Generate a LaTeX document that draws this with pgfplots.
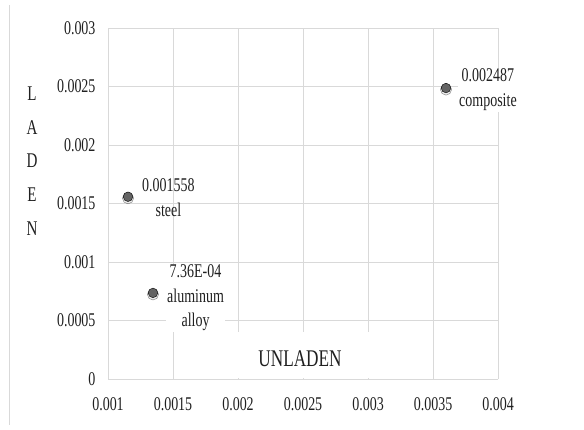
\documentclass[border=0pt]{standalone}
\usepackage{fontspec}
\setmainfont{Liberation Serif}[FakeStretch=0.72]
\usepackage{pgfplots}
\pgfplotsset{compat=1.18}
\definecolor{gridc}{HTML}{D9D9D9}
\definecolor{txt}{HTML}{202020}
\definecolor{mk}{HTML}{646464}
\begin{document}
\begin{tikzpicture}[x=1bp,y=1bp]
\useasboundingbox (0,0) rectangle (584,-429);
\draw[gridc, line width=0.8bp] (9,-5) -- (9,-425);
\node[align=center, text=txt, font=\fontsize{21}{33.8}\selectfont] at (32,-161) {L\\A\\D\\E\\N};
\begin{axis}[
  at={(108bp,-379bp)}, anchor=south west, scale only axis,
  width=390bp, height=351bp,
  xmin=0.001, xmax=0.004, ymin=0, ymax=0.003,
  scaled ticks=false,
  xtick={0.001,0.0015,0.002,0.0025,0.003,0.0035,0.004},
  xticklabels={0.001,0.0015,0.002,0.0025,0.003,0.0035,0.004},
  ytick={0,0.0005,0.001,0.0015,0.002,0.0025,0.003},
  yticklabels={0,0.0005,0.001,0.0015,0.002,0.0025,0.003},
  axis line style={draw=none},
  major tick length=0pt,
  grid=major, grid style={gridc, line width=0.8bp},
  tick label style={font=\fontsize{19.5}{21}\selectfont, text=txt},
  yticklabel style={xshift=-9bp},
  xticklabel style={yshift=-15bp},
  clip=false,
]
\fill[white] (axis cs:0.00199,0.00001) rectangle (axis cs:0.00301,0.0004);
\node[text=txt, font=\fontsize{24}{26}\selectfont] at (axis cs:0.002477,0.000171) {UNLADEN};
\addplot[only marks, mark=*, mark size=5.6bp, mark options={draw=none, fill=black!15, opacity=0.5, yshift=-1.5bp}]
  coordinates {(0.001154,0.001558) (0.001346,0.000736) (0.0036,0.002487)};
\addplot[only marks, mark=*, mark size=4.8bp, mark options={draw=none, fill=mk}]
  coordinates {(0.001154,0.001558) (0.001346,0.000736) (0.0036,0.002487)};
\node[anchor=west, inner sep=1bp, align=center, text=txt, font=\fontsize{19.5}{25}\selectfont, xshift=13bp, yshift=-1bp] at (axis cs:0.001154,0.001558) {0.001558\\steel};
\node[anchor=west, fill=white, inner sep=1bp, align=center, text=txt, font=\fontsize{19.5}{24.5}\selectfont, xshift=13bp, yshift=-5bp] at (axis cs:0.001346,0.000736) {7.36E-04\\aluminum\\alloy};
\node[anchor=west, fill=white, inner sep=1bp, align=center, text=txt, font=\fontsize{19.5}{25}\selectfont, xshift=12bp, yshift=-2bp] at (axis cs:0.0036,0.002487) {0.002487\\composite};
\end{axis}
\end{tikzpicture}
\end{document}
